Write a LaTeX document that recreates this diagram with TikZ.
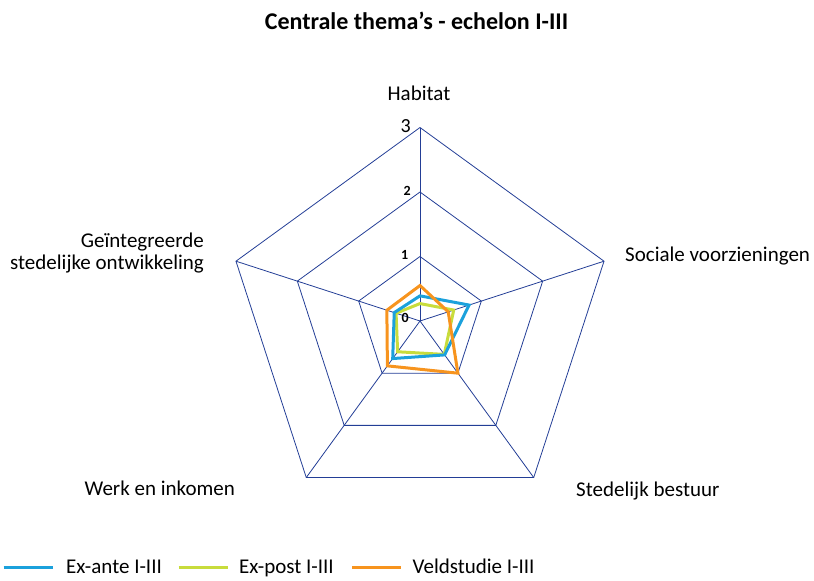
\documentclass[tikz,border=0pt]{standalone}
\usepackage{fontspec}
\setmainfont{Carlito}
\usepackage{tikz}
\usetikzlibrary{calc,positioning}
\definecolor{rooster}{RGB}{35,62,150}
\definecolor{exante}{RGB}{27,161,220}
\definecolor{expost}{RGB}{200,220,60}
\definecolor{veld}{RGB}{247,148,30}

\begin{document}
\begin{tikzpicture}[x=64.5pt,y=64.5pt,
  web/.style={draw=rooster, line width=0.8pt},
  reeks/.style={line width=3pt, line join=miter},
  lbl/.style={font=\fontsize{21}{22.5}\selectfont, inner sep=0pt},
  tick/.style={font=\fontsize{14}{15}\selectfont\bfseries, inner sep=0pt, anchor=east}]
\useasboundingbox (-6.512,-4.016) rectangle (6.109,4.977);

% assen
\coordinate (O) at (0,0);
\coordinate (hab) at (90:3);
\coordinate (soc) at (18:3);
\coordinate (bes) at (-54:3);
\coordinate (wer) at (-126:3);
\coordinate (gei) at (162:3);

% web
\draw[web] (90:1) -- (18:1) -- (-54:1) -- (-126:1) -- (162:1) -- cycle;
\draw[web] (90:2) -- (18:2) -- (-54:2) -- (-126:2) -- (162:2) -- cycle;
\draw[web] (hab) -- (soc) -- (bes) -- (wer) -- (gei) -- cycle;
\draw[web] (O) -- (hab);
\draw[web] (O) -- (soc);
\draw[web] (O) -- (bes);
\draw[web] (O) -- (wer);
\draw[web] (O) -- (gei);

% schaal
\node[tick, font=\fontsize{20}{21}\selectfont] (t3) at (-0.14,3.02) {3};
\node[tick] (t2) at (-0.14,2.02) {2};
\node[tick] (t1) at (-0.18,1.02) {1};
\node[tick] (t0) at (-0.17,0.04) {0};

% reeksen
\draw[reeks, draw=expost] (90:0.27) -- (18:0.55) -- (-54:0.64) -- (-126:0.59) -- (162:0.39) -- cycle;
\draw[reeks, draw=exante] (90:0.39) -- (18:0.80) -- (-54:0.65) -- (-126:0.72) -- (162:0.42) -- cycle;
\draw[reeks, draw=veld] (90:0.55) -- (18:0.46) -- (-54:1.0) -- (-126:0.86) -- (162:0.54) -- cycle;

% labels
\node[font=\fontsize{24}{28}\selectfont\bfseries, inner sep=0pt, anchor=base] (titel) at (-0.054,4.519) {Centrale thema’s - echelon I-III};
\node[lbl, anchor=base] (lhab) at (-0.016,3.426) {Habitat};
\node[lbl, anchor=base west] (lsoc) at (3.178,0.930) {Sociale voorzieningen};
\node[lbl, anchor=east, align=right] (lgei) at (-3.349,1.054) {Geïntegreerde\\stedelijke ontwikkeling};
\node[lbl, anchor=base east] (lwer) at (-2.868,-2.698) {Werk en inkomen};
\node[lbl, anchor=base west] (lbes) at (2.419,-2.724) {Stedelijk bestuur};

% legenda
\draw[reeks, draw=exante] (-6.456,-3.829) coordinate (la) -- (-5.691,-3.829) coordinate (lb);
\node[lbl, anchor=base west] (exa) at (-5.488,-3.922) {Ex-ante I-III};
\draw[reeks, draw=expost] (-3.743,-3.829) coordinate (lc) -- (-2.984,-3.829) coordinate (ld);
\node[lbl, anchor=base west] (exp) at (-2.806,-3.922) {Ex-post I-III};
\draw[reeks, draw=veld] (-1.047,-3.829) coordinate (le) -- (-0.299,-3.829) coordinate (lf);
\node[lbl, anchor=base west] (vel) at (-0.116,-3.922) {Veldstudie I-III};
\end{tikzpicture}
\end{document}
